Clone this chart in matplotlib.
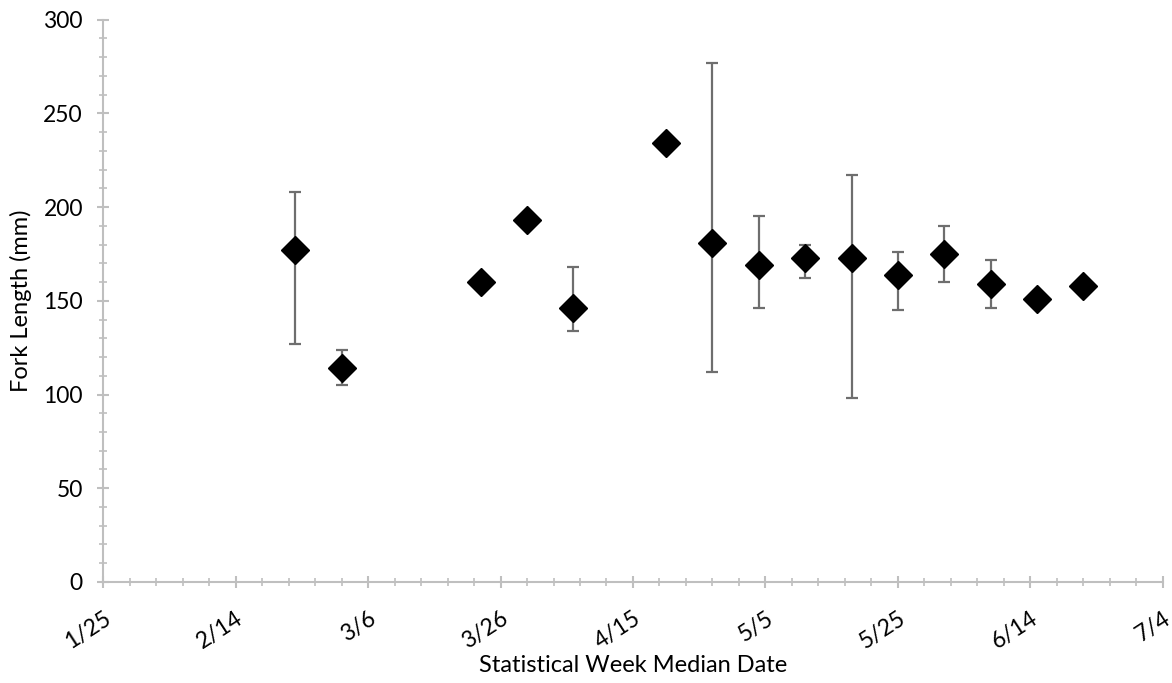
import datetime as dt
import numpy as np
import pandas as pd
import matplotlib
matplotlib.use("Agg")
import matplotlib.pyplot as plt
import matplotlib.dates as mdates
from matplotlib.ticker import FuncFormatter, MultipleLocator

plt.rcParams['font.family'] = ['Lato', 'DejaVu Sans']

# statistical week median dates (month/day) and mean fork length with range
week_dates = ["2/23", "3/2", "3/23", "3/30", "4/6", "4/20", "4/27", "5/4",
              "5/11", "5/18", "5/25", "6/1", "6/8", "6/15", "6/22"]
fork_length = [177, 114, 160, 193, 146, 234, 181, 169, 173, 173, 164, 175, 159, 151, 158]
fl_min = [127, 105, np.nan, np.nan, 134, np.nan, 112, 146, 162, 98, 145, 160, 146, np.nan, np.nan]
fl_max = [208, 124, np.nan, np.nan, 168, np.nan, 277, 195, 180, 217, 176, 190, 172, np.nan, np.nan]

year = 2015
dates = [dt.datetime(year, int(s.split("/")[0]), int(s.split("/")[1])) for s in week_dates]
x = mdates.date2num(dates)
y = np.array(fork_length, dtype=float)
lo = y - np.array(fl_min)
hi = np.array(fl_max) - y

fig = plt.figure(figsize=(11.72, 6.83), dpi=100)
ax = fig.add_axes([0.0879, 0.1479, 0.9044, 0.8235])

ax.errorbar(x, y, yerr=[lo, hi], fmt='none', ecolor='#6e6e6e', elinewidth=1.6,
            capsize=4.3, capthick=1.6, zorder=2)
ax.plot(x, y, linestyle='none', marker='D', markersize=14, color='black', zorder=3)

start = dt.datetime(year, 1, 25)
end = dt.datetime(year, 7, 4)
ax.set_xlim(mdates.date2num(start), mdates.date2num(end))
ax.set_ylim(0, 300)

major = mdates.date2num(pd.date_range(start, end, freq='20D').to_pydatetime())
minor = mdates.date2num(pd.date_range(start, end, freq='4D').to_pydatetime())
ax.set_xticks(major)
ax.set_xticks(minor, minor=True)
ax.xaxis.set_major_formatter(FuncFormatter(
    lambda v, pos: f"{mdates.num2date(v).month}/{mdates.num2date(v).day}"))
ax.yaxis.set_major_locator(MultipleLocator(50))
ax.yaxis.set_minor_locator(MultipleLocator(10))

for side in ['top', 'right']:
    ax.spines[side].set_visible(False)
for side in ['left', 'bottom']:
    ax.spines[side].set_color('#bfbfbf')
    ax.spines[side].set_linewidth(1.5)

ax.tick_params(which='major', direction='inout', length=9, width=1.5, color='#bfbfbf',
               labelsize=16.5, labelcolor='black')
ax.tick_params(which='minor', direction='inout', length=6, width=1.2, color='#bfbfbf')
ax.tick_params(axis='y', pad=10)
ax.tick_params(axis='x', pad=14)
plt.setp(ax.get_xticklabels(), rotation=33, ha='right', rotation_mode='anchor')

ax.set_xlabel("Statistical Week Median Date", fontsize=17, labelpad=2)
ax.set_ylabel("Fork Length (mm)", fontsize=17, labelpad=8)

fig.savefig("out.png", dpi=100)
